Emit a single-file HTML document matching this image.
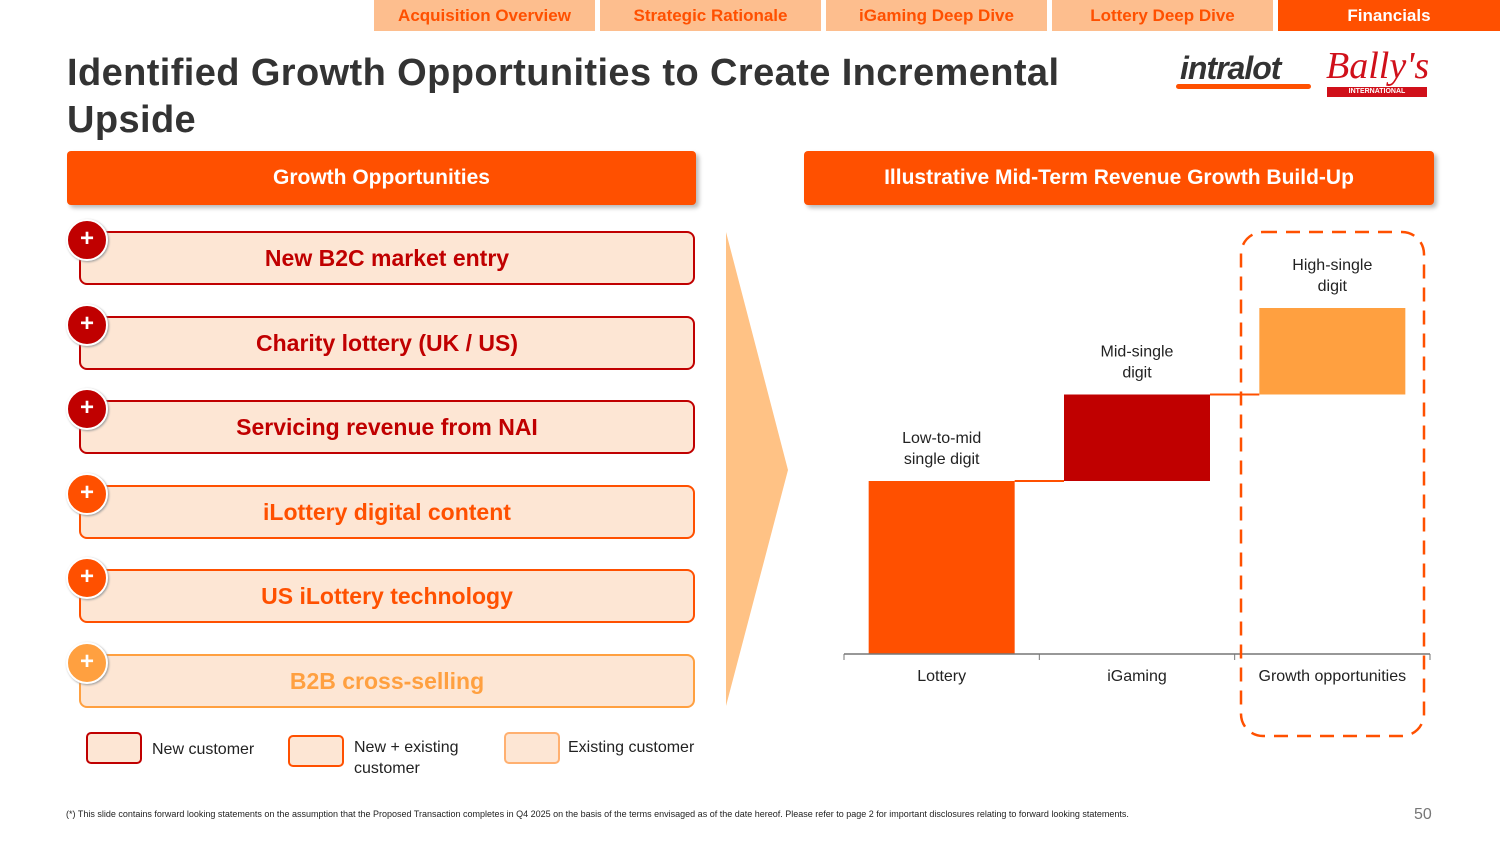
<!DOCTYPE html>
<html><head><meta charset="utf-8"><style>
body{margin:0;width:1500px;height:843px;overflow:hidden;background:#fff;font-family:"Liberation Sans",sans-serif;position:relative}
.tab{position:absolute;top:0;height:31px;background:#FDBE8E;color:#FF5000;font-weight:bold;font-size:17px;text-align:center;line-height:31px}
.hdr{position:absolute;top:151px;height:54px;background:#FF5000;color:#fff;font-weight:bold;font-size:21px;text-align:center;line-height:54px;border-radius:4px;box-shadow:3px 3px 4px #bbb}
.row{position:absolute;left:79px;width:612px;height:50px;border:2px solid;border-radius:8px;background:#FDE6D4;font-weight:bold;font-size:23px;text-align:center;line-height:50px}
.plus{position:absolute;left:66px;width:38px;height:38px;border-radius:50%;color:#fff;font-weight:bold;font-size:24px;text-align:center;line-height:36px;border:2px solid #fff;box-shadow:1px 1px 2px #999}
.leg{position:absolute;width:52px;height:28px;border:2px solid;border-radius:5px;background:#FDE6D4}
.lt{position:absolute;font-size:16px;color:#222;line-height:21px}
</style></head><body>
<div class="tab" style="left:374px;width:221px">Acquisition Overview</div>
<div class="tab" style="left:600px;width:221px">Strategic Rationale</div>
<div class="tab" style="left:826px;width:221px">iGaming Deep Dive</div>
<div class="tab" style="left:1052px;width:221px">Lottery Deep Dive</div>
<div class="tab" style="left:1278px;width:222px;background:#FF5000;color:#fff">Financials</div>
<div style="position:absolute;left:67px;top:50px;font-size:38px;font-weight:bold;color:#333;line-height:47px;width:1050px;letter-spacing:0.4px">Identified Growth Opportunities to Create Incremental Upside</div>
<div style="position:absolute;left:1180px;top:50px;font-size:32px;font-weight:bold;font-style:italic;color:#333;letter-spacing:-1px">intralot</div>
<div style="position:absolute;left:1176px;top:84px;width:135px;height:5px;background:#FF5000;border-radius:3px"></div>
<div style="position:absolute;left:1326px;top:44px;font-size:38px;font-style:italic;font-family:'Liberation Serif',serif;color:#D0101A">Bally's</div>
<div style="position:absolute;left:1327px;top:87px;width:100px;height:10px;background:#D0101A;color:#fff;font-size:7px;font-weight:bold;text-align:center;line-height:10px">INTERNATIONAL INTERACTIVE</div>
<div class="hdr" style="left:67px;width:629px">Growth Opportunities</div>
<div class="hdr" style="left:804px;width:630px">Illustrative Mid-Term Revenue Growth Build-Up</div>
<div id="rows"></div>
<svg style="position:absolute;left:0;top:0" width="1500" height="843"><polygon points="726,232 788,470 726,706" fill="#FFC285"/></svg>
<div class="leg" style="left:86px;top:732px;border-color:#C00000"></div>
<div class="lt" style="left:152px;top:739px">New customer</div>
<div class="leg" style="left:288px;top:735px;border-color:#FF5000"></div>
<div class="lt" style="left:354px;top:737px">New + existing<br>customer</div>
<div class="leg" style="left:504px;top:732px;border-color:#FFB070"></div>
<div class="lt" style="left:568px;top:737px">Existing customer</div>
<svg id="chart" style="position:absolute;left:0;top:0" width="1500" height="843"></svg>
<div style="position:absolute;left:66px;top:809px;font-size:9px;color:#222">(*) This slide contains forward looking statements on the assumption that the Proposed Transaction completes in Q4 2025 on the basis of the terms envisaged as of the date hereof. Please refer to page 2 for important disclosures relating to forward looking statements.</div>
<div style="position:absolute;left:1414px;top:806px;font-size:16px;color:#777">50</div>
<script>
const rowLabels=["New B2C market entry","Charity lottery (UK / US)","Servicing revenue from NAI","iLottery digital content","US iLottery technology","B2B cross-selling"];
const rowTypes=["new","new","new","both","both","existing"];
const colors={new:"#C00000",both:"#FF5000",existing:"#FFA040"};
const rc=document.getElementById('rows');
rowLabels.forEach((t,i)=>{const y=231+i*84.5;const c=colors[rowTypes[i]];
const r=document.createElement('div');r.className='row';r.style.top=y+'px';r.style.borderColor=c;r.style.color=c;r.textContent=t;

rc.appendChild(r);
const p=document.createElement('div');p.className='plus';p.style.top=(y-12)+'px';p.style.background=c;p.textContent='+';

rc.appendChild(p);});

const categories=["Lottery","iGaming","Growth opportunities"];
const values=[2,1,1];
const valueLabels=[["Low-to-mid","single digit"],["Mid-single","digit"],["High-single","digit"]];
const barColors=["#FF5000","#C00000","#FFA040"];
const ns='http://www.w3.org/2000/svg',svg=document.getElementById('chart');
const x0=844,x1=1430,base=654,unit=86.5,band=(x1-x0)/categories.length,bw=146;
const y=v=>base-v*unit;
function mk(tag,a){const e=document.createElementNS(ns,tag);for(const k in a)e.setAttribute(k,a[k]);svg.appendChild(e);return e;}
let cum=0;
categories.forEach((c,i)=>{const bx=x0+i*band+(band-bw)/2;const top=y(cum+values[i]),bot=y(cum);
const r=mk('rect',{x:bx,y:top,width:bw,height:bot-top,fill:barColors[i]});


if(i<categories.length-1){const l=mk('line',{x1:bx+bw,x2:bx+band,y1:top,y2:top,stroke:'#FF5000','stroke-width':2});

}
valueLabels[i].forEach((s,j)=>{const t=mk('text',{x:bx+bw/2,y:top-38+j*21,'text-anchor':'middle','font-size':16,fill:'#222'});t.textContent=s;

});
const t=mk('text',{x:x0+i*band+band/2,y:681,'text-anchor':'middle','font-size':16,fill:'#222'});t.textContent=c;


cum+=values[i];});
const ax=mk('line',{x1:x0,x2:x1,y1:base,y2:base,stroke:'#777','stroke-width':1.5});


for(let i=0;i<=categories.length;i++){const tk=mk('line',{x1:x0+i*band,x2:x0+i*band,y1:base,y2:base+6,stroke:'#777'});

}
const hl=mk('rect',{x:1241,y:232,width:183,height:504,rx:22,fill:'none',stroke:'#FF5000','stroke-width':2.5,'stroke-dasharray':'14 9'});


</script>
</body></html>
